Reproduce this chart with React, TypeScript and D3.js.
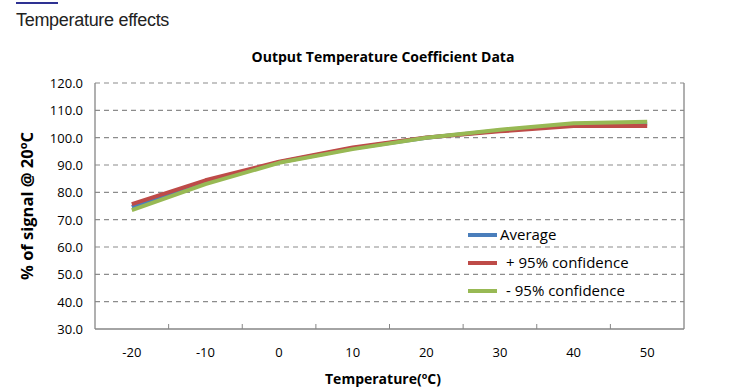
import React from "react";
import * as d3 from "d3";

const categories = ["-20", "-10", "0", "10", "20", "30", "40", "50"];
const average = [74.7, 83.8, 91.0, 96.1, 100.0, 102.6, 104.9, 105.1];
const plus95 = [75.7, 84.4, 91.2, 96.4, 100.1, 102.3, 104.3, 104.3];
const minus95 = [73.5, 83.0, 90.8, 95.8, 100.0, 102.9, 105.3, 105.8];
const yTicks = [30, 40, 50, 60, 70, 80, 90, 100, 110, 120];
const seriesNames = ["Average", "+ 95% confidence", "- 95% confidence"];
const seriesColors = ["#4A7EBB", "#BE4B48", "#98B954"];

const font = "'Open Sans', 'Noto Sans', sans-serif";

export default function App() {
  const W = 741, H = 392;
  const left = 95, right = 684, top = 83, bottom = 329;
  const x = d3.scaleBand().domain(categories).range([left, right]);
  const y = d3.scaleLinear().domain([30, 120]).range([bottom, top]);
  const line = d3
    .line<number>()
    .x((_, i) => (x(categories[i]) as number) + x.bandwidth() / 2)
    .y((d) => y(d));
  const series = [average, plus95, minus95];
  const tickXs = categories.slice(1).map((c) => x(c) as number);

  return (
    <svg width={W} height={H} style={{ position: "absolute", left: 0, top: 0 }}>
      <rect x={0} y={0} width={W} height={H} fill="#fff" />
      <line x1={16} x2={58} y1={3} y2={3} stroke="#2E3192" strokeWidth={2} />
      <text x={16} y={26} fontFamily="Arial, 'Liberation Sans', sans-serif" fontSize={18} fill="#222" letterSpacing={-0.3}>
        Temperature effects
      </text>
      <text x={383} y={62} textAnchor="middle" fontFamily={font} fontSize={14} fontWeight="bold" fill="#000">
        Output Temperature Coefficient Data
      </text>
      {yTicks.slice(1).map((t) => (
        <line key={t} x1={left} x2={right} y1={y(t)} y2={y(t)} stroke="#8c8c8c" strokeWidth={1.2} strokeDasharray="5,4" />
      ))}
      <line x1={left} x2={left} y1={top} y2={bottom} stroke="#868686" strokeWidth={1.3} />
      <line x1={left} x2={right} y1={bottom} y2={bottom} stroke="#868686" strokeWidth={1.3} />
      <line x1={right} x2={right} y1={top} y2={bottom} stroke="#868686" strokeWidth={1.3} />
      {tickXs.map((tx, i) => (
        <line key={i} x1={tx} x2={tx} y1={bottom} y2={bottom - 5} stroke="#868686" strokeWidth={1} />
      ))}
      {yTicks.map((t) => (
        <text key={t} x={83} y={y(t) + 5} textAnchor="end" fontFamily={font} fontSize={13} fill="#000">
          {t.toFixed(1)}
        </text>
      ))}
      {categories.map((c) => (
        <text key={c} x={(x(c) as number) + x.bandwidth() / 2} y={357} textAnchor="middle" fontFamily={font} fontSize={13} fill="#000">
          {c}
        </text>
      ))}
      <text x={383} y={384} textAnchor="middle" fontFamily={font} fontSize={14} fontWeight="bold" fill="#000">
        Temperature(
        <tspan fontSize={9} dy={-5}>o</tspan>
        <tspan dy={5}>C)</tspan>
      </text>
      <text
        transform={`translate(33,${(top + bottom) / 2}) rotate(-90)`}
        textAnchor="middle"
        fontFamily={font}
        fontSize={16.5}
        fontWeight="bold"
        fill="#000"
      >
        % of signal @ 20
        <tspan fontSize={11} dy={-6}>o</tspan>
        <tspan dy={6}>C</tspan>
      </text>
      {series.map((s, i) => (
        <path key={i} d={line(s) as string} fill="none" stroke={seriesColors[i]} strokeWidth={4} strokeLinejoin="round" />
      ))}
      {seriesNames.map((n, i) => (
        <g key={n}>
          <line x1={468} x2={497} y1={235 + i * 28} y2={235 + i * 28} stroke={seriesColors[i]} strokeWidth={4} />
          <text x={i === 0 ? 500 : 506} y={240 + i * 28} fontFamily={font} fontSize={15} fill="#000">
            {n}
          </text>
        </g>
      ))}
    </svg>
  );
}
